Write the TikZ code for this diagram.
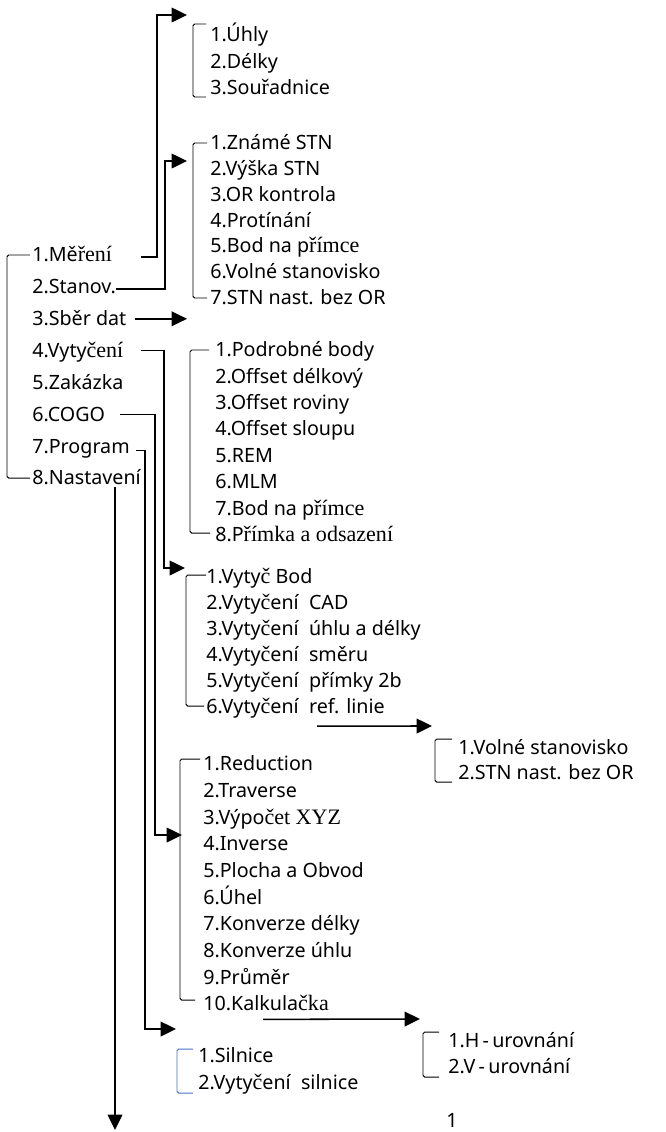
\documentclass[tikz,border=0pt]{standalone}
\usepackage{fontspec}
\setmainfont{Noto Sans}
\newfontfamily\srf[Scale=1.12]{Liberation Serif}
\usetikzlibrary{arrows.meta}
\definecolor{brblue}{RGB}{68,114,196}
\tikzset{
  item/.style={anchor=west,inner sep=0pt,text height=11pt,text depth=1.5pt,font=\fontsize{14}{16}\selectfont},
  link/.style={line width=1.1pt,-{Triangle[length=11pt,width=10.5pt]}},
  brace/.style={line width=0.7pt,rounded corners=1.2pt},
}
\begin{document}
\begin{tikzpicture}[x=0.025cm,y=-0.025cm]
\useasboundingbox (0,0) rectangle (665,1132);

\foreach \t [count=\i] in {1.Mě{\srf ření},2.Stanov.,3.Sběr dat,4.Vyty{\srf čení},5.Zakázka,6.COGO,7.Program,8.Nastavení}
  \node[item] (m\i) at (32,{255+31.9*(\i-1)}) {\t};
\foreach \t [count=\i] in {1.Úhly,2.Délky,3.Sou{\srf ř}adnice}
  \node[item] (a\i) at (210,{35+26.5*(\i-1)}) {\t};
\foreach \t [count=\i] in {1.Známé STN,2.Výška STN,3.OR kontrola,4.Protínání,5.Bod na p{\srf římce},6.Volné stanovisko,7.STN nast. bez OR}
  \node[item] (b\i) at (210,{143+25.8*(\i-1)}) {\t};
\foreach \t [count=\i] in {1.Podrobné body,2.Offset délkový,3.Offset roviny,4.Offset sloupu,5.REM,6.MLM,7.Bod na p{\srf římce},8.P{\srf římka a odsazení}}
  \node[item] (c\i) at (215,{350+26.4*(\i-1)}) {\t};
\foreach \t [count=\i] in {1.Vyty{\srf č} Bod,2.Vyty{\srf č}ení~ CAD,3.Vyty{\srf č}ení~ úhlu a délky,4.Vyty{\srf č}ení~ směru,5.Vyty{\srf č}ení~ přímky 2b,6.Vyty{\srf č}ení~ ref. linie}
  \node[item] (d\i) at (206,{577+26*(\i-1)}) {\t};
\foreach \t [count=\i] in {1.Volné stanovisko,2.STN nast. bez OR}
  \node[item] (e\i) at (458,{748+25*(\i-1)}) {\t};
\foreach \t [count=\i] in {1.Reduction,2.Traverse,3.Výpo{\srf čet XYZ},4.Inverse,5.Plocha a Obvod,6.Úhel,7.Konverze délky,8.Konverze úhlu,9.Průměr,10.Kalkula{\srf čka}}
  \node[item] (f\i) at (203,{764+26.7*(\i-1)}) {\t};
\foreach \t [count=\i] in {1.H\,-\,urovnání,2.V\,-\,urovnání}
  \node[item] (g\i) at (448,{1041+26*(\i-1)}) {\t};
\foreach \t [count=\i] in {1.Silnice,2.Vyty{\srf č}ení~ silnice}
  \node[item] (h\i) at (198,{1056+27*(\i-1)}) {\t};
\node[item,anchor=center] (pg) at (452,1121) {1};

% brackets
\draw[brace] (30,255) -| (7,478) -- (30,478);
\draw[brace] (206,24) -| (193,97) -- (206,97);
\draw[brace] (207,143) -| (193,298) -- (207,298);
\draw[brace] (209,350) -| (190,533) -- (210,533);
\draw[brace] (206,575) -| (186,706) -- (204,706);
\draw[brace] (452,739) -| (435,782) -- (452,782);
\draw[brace] (200,759) -| (180,1000) -- (195,1000);
\draw[brace] (439,1032) -| (423,1077) -- (439,1077);
\draw[brace,brblue] (193,1049) -| (177,1093) -- (193,1093);

\coordinate (cA) at (157,15);   \coordinate (tA) at (187,15);
\coordinate (cB) at (165,161);  \coordinate (tB) at (187,161);
\coordinate (tC) at (187,320);
\coordinate (cD) at (164,568);  \coordinate (tD) at (185,568);
\coordinate (tE) at (432,726);
\coordinate (cF) at (155,835);  \coordinate (tF) at (182,835);
\coordinate (tG) at (420,1019);
\coordinate (cH) at (145,1029); \coordinate (tH) at (176,1029);
\coordinate (tN) at (115,1130);

\draw[link] (m1.east) ++(29,2) -| (cA) -- (tA);
\draw[link] (m2.east) ++(0,2) -| (cB) -- (tB);
\draw[link] (m3.east) ++(8,0) -- (m3.east -| tC);
\draw[link] (m4.east) ++(17,0) -| (cD) -- (tD);
\draw[link] (m6.east) ++(15,0) -| (cF) -- (tF);
\draw[link] (m7.east) ++(6,4) -| (cH) -- (tH);
\draw[link] (m8.south -| tN) -- (tN);
\draw[link] (d6.south west) ++(111,10) -- (tE);
\draw[link] (f10.south west) ++(60,6) -- (tG);
\end{tikzpicture}
\end{document}
